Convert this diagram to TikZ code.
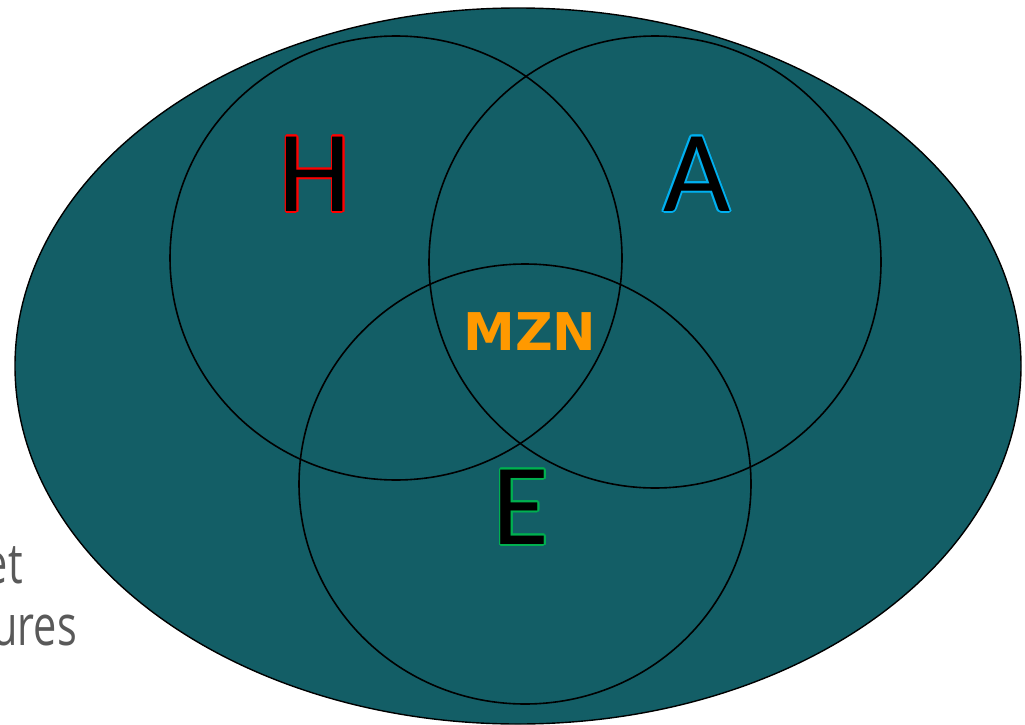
\documentclass[tikz,border=0pt]{standalone}
\usepackage{fontspec}
\setmainfont{Carlito}
\newfontfamily\labelfont{Carlito}
\newfontfamily\mznfont{DejaVu Sans}
\newfontfamily\grayfont{Open Sans}
\usepackage{contour}
\contourlength{1.6pt}
\definecolor{tealbg}{HTML}{135E66}
\definecolor{graytxt}{HTML}{595959}
\definecolor{hred}{HTML}{FF0000}
\definecolor{ablue}{HTML}{00B0F0}
\definecolor{egreen}{HTML}{00B050}
\definecolor{mznorange}{HTML}{FF9900}
\tikzset{
  setcircle/.style={draw=black, line width=1.6pt},
  biglabel/.style={inner sep=0pt, font=\labelfont\fontsize{116}{116}\selectfont},
  graylabel/.style={inner sep=0pt, anchor=base east, text=graytxt, font=\grayfont\fontsize{56}{56}\selectfont}
}
\begin{document}
\begin{tikzpicture}[x=1pt,y=-1pt]
\useasboundingbox (0,0) rectangle (1025,725);
\begin{scope}
\clip (0,0) rectangle (1025,725);
\node[graylabel] (et) at (23,583) {\scalebox{0.74}[1]{et}};
\node[graylabel] (ures) at (77,645) {\scalebox{0.74}[1]{ures}};
\fill[tealbg, draw=black, line width=1.4pt] (518,366) ellipse [x radius=503, y radius=358];
\end{scope}
\coordinate (ch) at (396,258);
\coordinate (ca) at (655,262);
\coordinate (ce) at (525,484);
\draw[setcircle] (ch) ellipse [x radius=226, y radius=222];
\draw[setcircle] (ca) circle [radius=226];
\draw[setcircle] (ce) ellipse [x radius=226, y radius=220];
\node[biglabel] (H) at (315,175) {\contour{hred}{H}};
\node[biglabel] (A) at (697,175) {\contour{ablue}{A}};
\node[biglabel] (E) at (521,508) {\contour{egreen}{E}};
\node[inner sep=0pt, text=mznorange, font=\mznfont\bfseries\fontsize{52}{52}\selectfont] (M) at (530,332) {MZN};
\end{tikzpicture}
\end{document}
